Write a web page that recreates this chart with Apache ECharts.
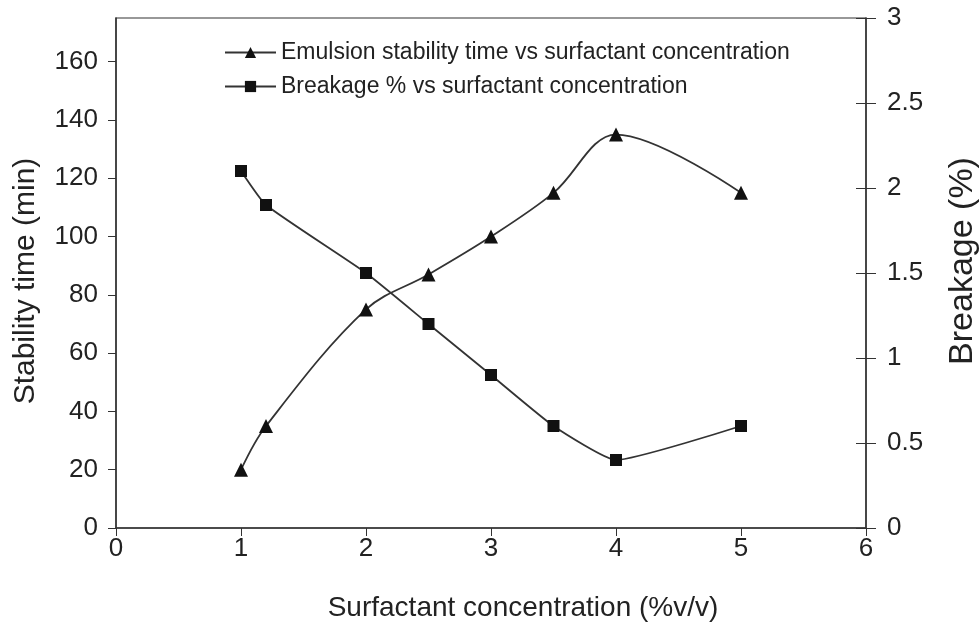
<!DOCTYPE html>
<html>
<head>
<meta charset="utf-8">
<script src="https://cdn.jsdelivr.net/npm/echarts@6/dist/echarts.min.js"></script>
<style>
    html, body { margin: 0; padding: 0; background: #fff; }
    #chart { width: 979px; height: 628px; }
</style>
</head>
<body>
<div id="chart"></div>
<script>
// surfactant concentration (%v/v)
const concentration = [1, 1.2, 2, 2.5, 3, 3.5, 4, 5];
// stability time (min)
const stabilityTime = [20, 35, 75, 87, 100, 115, 135, 115];
// breakage (%)
const breakage = [2.1, 1.9, 1.5, 1.2, 0.9, 0.6, 0.4, 0.6];

const stabilityName = 'Emulsion stability time vs surfactant concentration';
const breakageName = 'Breakage % vs surfactant concentration';

const font = 'Liberation Sans, Arial, sans-serif';
const ink = '#222';

const chart = echarts.init(document.getElementById('chart'));

const pairs = (xs, ys) => xs.map((x, i) => [x, ys[i]]);

const option = {
    animation: false,
    textStyle: { fontFamily: font, color: ink },
    grid: {
        left: 116, right: 113, top: 18, bottom: 100,
        outerBoundsMode: 'none',
        containLabel: false,
        show: true, borderColor: '#333', borderWidth: 1.2
    },
    legend: {
        orient: 'vertical',
        left: 219,
        top: 36,
        itemGap: 11,
        itemWidth: 51,
        itemHeight: 14,
        textStyle: { fontSize: 23, color: ink, fontFamily: font },
        data: [stabilityName, breakageName]
    },
    xAxis: {
        type: 'value',
        min: 0, max: 6, interval: 1,
        name: 'Surfactant concentration (%v/v)',
        nameLocation: 'middle',
        nameGap: 66,
        nameTextStyle: { fontSize: 28, color: ink, padding: [0, 0, 0, 64] },
        axisLine: { lineStyle: { color: '#333', width: 1.5 } },
        axisTick: { length: 8, lineStyle: { color: '#333' } },
        axisLabel: { fontSize: 26, color: ink, margin: 8 },
        splitLine: { show: false }
    },
    yAxis: [
        {
            type: 'value',
            position: 'left',
            min: 0, max: 175, interval: 20,
            name: 'Stability time (min)',
            nameLocation: 'middle',
            nameGap: 75,
            nameTextStyle: { fontSize: 30, color: ink, padding: [0, 16, 0, 0] },
            axisLine: { show: true, lineStyle: { color: '#333', width: 1.5 } },
            axisTick: { show: true, length: 8, lineStyle: { color: '#333' } },
            axisLabel: { fontSize: 26, color: ink, margin: 18, showMaxLabel: false },
            splitLine: { show: false }
        },
        {
            type: 'value',
            position: 'right',
            min: 0, max: 3, interval: 0.5,
            name: 'Breakage (%)',
            nameLocation: 'middle',
            nameRotate: 90,
            nameGap: 80,
            nameTextStyle: { fontSize: 34, color: ink, padding: [0, 0, 0, 24] },
            axisLine: { show: true, lineStyle: { color: '#333', width: 1.5 } },
            axisTick: { show: true, length: 10, lineStyle: { color: '#333' } },
            axisLabel: { fontSize: 26, color: ink, margin: 21 },
            splitLine: { show: false }
        },
        {
            // inner half of the crossing ticks on the right axis
            type: 'value',
            position: 'right',
            min: 0, max: 3, interval: 0.5,
            axisLine: { show: false },
            axisTick: { show: true, inside: true, length: 10, lineStyle: { color: '#333' } },
            axisLabel: { show: false },
            splitLine: { show: false }
        }
    ],
    series: [
        {
            name: stabilityName,
            type: 'line',
            yAxisIndex: 0,
            data: pairs(concentration, stabilityTime),
            smooth: 0.35,
            symbol: 'triangle',
            symbolSize: 14,
            itemStyle: { color: '#111' },
            lineStyle: { color: '#333', width: 1.8 }
        },
        {
            name: breakageName,
            type: 'line',
            yAxisIndex: 1,
            data: pairs(concentration, breakage),
            smooth: 0.15,
            symbol: 'rect',
            symbolSize: 12,
            itemStyle: { color: '#111' },
            lineStyle: { color: '#333', width: 1.8 }
        }
    ]
};

chart.setOption(option);
</script>
</body>
</html>
